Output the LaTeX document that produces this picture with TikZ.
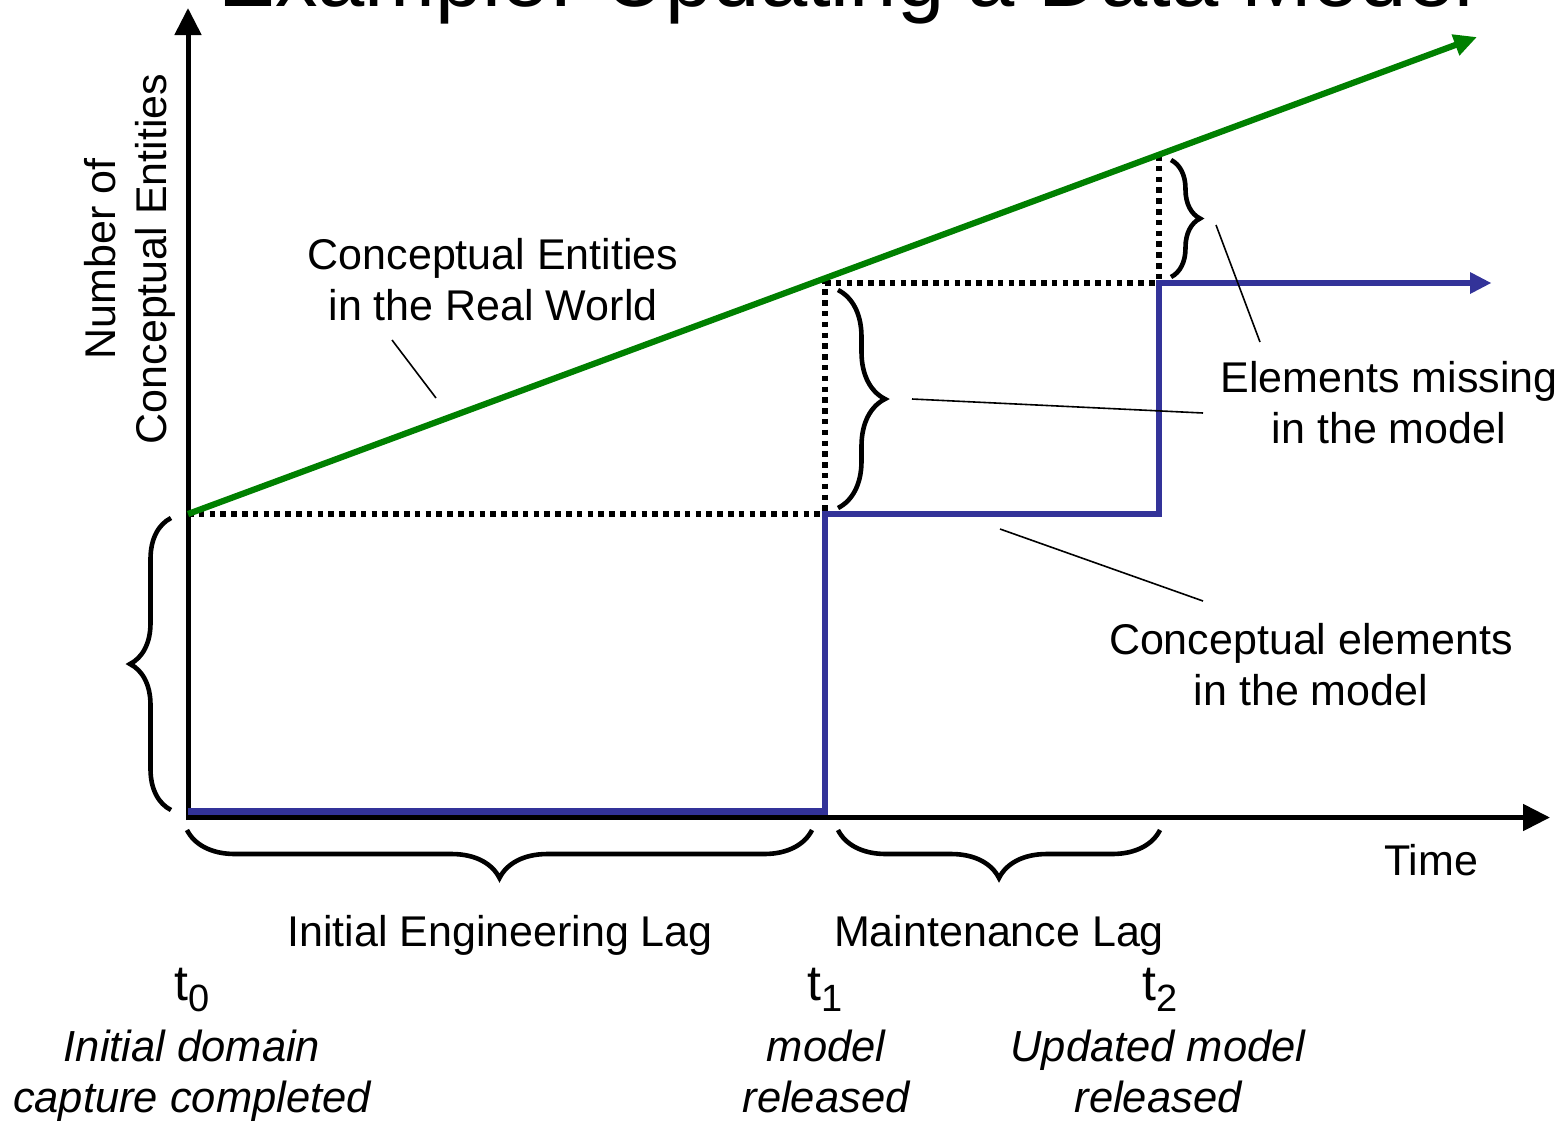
\documentclass[tikz,border=0pt]{standalone}
\usepackage{fontspec}
\setmainfont{Liberation Sans}
\usetikzlibrary{arrows.meta,decorations.pathreplacing}

\definecolor{realgreen}{RGB}{0,128,0}
\definecolor{modelblue}{RGB}{51,51,153}

\tikzset{
  axisline/.style={line width=5pt, draw=black, -{Triangle[length=27pt,width=26pt]}},
  realline/.style={line width=6.2pt, draw=realgreen, -{Triangle[length=23pt,width=21pt]}},
  modelline/.style={line width=6.5pt, draw=modelblue, line join=miter},
  guide/.style={line width=5.5pt, draw=black, dash pattern=on 5.5pt off 5.3pt},
  bracemark/.style={line width=4.6pt, draw=black,
    decorate, decoration={brace, amplitude=#1, aspect=0.5}},
  leader/.style={line width=1.6pt, draw=black},
  lbl/.style={inner sep=0pt, align=center, font=\fontsize{43}{51}\selectfont},
  note/.style={inner sep=0pt, align=center, font=\fontsize{43.5}{51}\selectfont\itshape},
  tick/.style={inner sep=0pt, anchor=base, font=\fontsize{50}{56}\selectfont},
}
\newcommand{\tsub}[1]{t\raisebox{-11pt}{\fontsize{38}{40}\selectfont #1}}

\begin{document}
\begin{tikzpicture}[x=1pt, y=-1pt]
  \useasboundingbox (0,0) rectangle (1566,1120);
  \clip (0,0) rectangle (1566,1120);

  % title, partly above the page
  \node[inner sep=0pt, anchor=base, font=\fontsize{85}{90}\selectfont] (title) at (846,6) {Example: Updating a Data Model};

  % key points of the chart
  \coordinate (yb) at (188,820);
  \coordinate (yt) at (188,8);
  \coordinate (xl) at (186,817.5);
  \coordinate (xr) at (1550,817.5);
  \coordinate (g0) at (188,514);
  \coordinate (g1) at (1477,37);
  \coordinate (gt1) at (825,278.5);
  \coordinate (gt2) at (1159,155);
  \coordinate (b0) at (188,811.5);
  \coordinate (b1) at (825,811.5);
  \coordinate (b2) at (825,514);
  \coordinate (b3) at (1159,514);
  \coordinate (b4) at (1159,283);
  \coordinate (b5) at (1491,283);

  % dotted guides
  \draw[guide] (g0) -- (b2);
  \draw[guide] (gt1) -- (b2);
  \draw[guide] (825,283) -- (b4);
  \draw[guide] (gt2) -- (b4);

  % axes
  \draw[axisline] (yb) -- (yt);
  \draw[axisline] (xl) -- (xr);

  % real world growth
  \draw[realline] (g0) -- (g1);

  % model steps
  \draw[modelline] (b0) -- (b1) -- (b2) -- (b3) -- (b4) -- (1472,283);
  \fill[modelblue] (b5) -- (1470,272) -- (1470,294) -- cycle;

  % braces
  \coordinate (lb1) at (171,810);
  \coordinate (lb2) at (171,518);
  \draw[bracemark=41pt] (lb1) -- (lb2);
  \coordinate (mb1) at (838,290);
  \coordinate (mb2) at (838,508);
  \draw[bracemark=47pt] (mb1) -- (mb2);
  \coordinate (tb1) at (1171,160);
  \coordinate (tb2) at (1171,277);
  \draw[bracemark=29pt] (tb1) -- (tb2);
  \coordinate (eb1) at (812,830);
  \coordinate (eb2) at (187,830);
  \draw[bracemark=48pt] (eb1) -- (eb2);
  \coordinate (ml1) at (1160,830);
  \coordinate (ml2) at (838,830);
  \draw[bracemark=48pt] (ml1) -- (ml2);

  % labels
  \node[lbl, rotate=90] (ylab) at (130,259) {Number of\\Conceptual Entities};
  \node[lbl] (real) at (493,280) {Conceptual Entities\\in the Real World};
  \node[lbl] (miss) at (1389,403) {Elements missing\\in the model};
  \node[lbl] (elem) at (1311,665) {Conceptual elements\\in the model};
  \node[lbl] (time) at (1431,860) {Time};
  \node[lbl, anchor=base] (iel) at (500,946) {Initial Engineering Lag};
  \node[lbl, anchor=base] (mlag) at (999,946) {Maintenance Lag};

  \node[tick] (t0) at (192,1000) {\tsub{0}};
  \node[tick] (t1) at (825,1000) {\tsub{1}};
  \node[tick] (t2) at (1160,1000) {\tsub{2}};

  \node[note, anchor=north] (n0) at (192,1030) {Initial domain\\capture completed};
  \node[note, anchor=north] (n1) at (826,1030) {model\\released};
  \node[note, anchor=north] (n2) at (1158,1030) {Updated model\\released};

  % leader lines
  \coordinate (la1) at (392,340);
  \coordinate (la2) at (436,398);
  \draw[leader] (la1) -- (la2);
  \coordinate (lm1) at (912,399);
  \coordinate (lm2) at (1203,413);
  \draw[leader] (lm1) -- (lm2);
  \coordinate (lt1) at (1216,225);
  \coordinate (lt2) at (1260,342);
  \draw[leader] (lt1) -- (lt2);
  \coordinate (le1) at (1000,529);
  \coordinate (le2) at (1203,601);
  \draw[leader] (le1) -- (le2);
\end{tikzpicture}
\end{document}
